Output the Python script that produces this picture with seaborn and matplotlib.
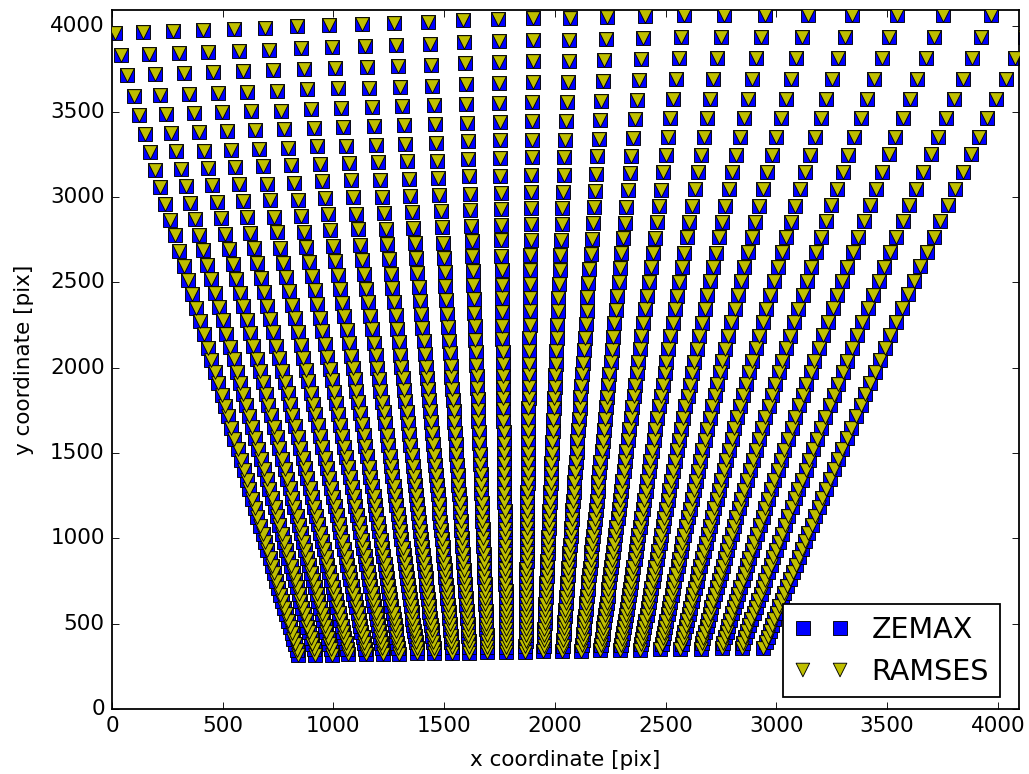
import numpy as np
import pandas as pd
import matplotlib
matplotlib.use("Agg")
import matplotlib.pyplot as plt
import seaborn as sns

# ---- data (detector pixel coordinates) ----
# x position of each order trace at its lowest and highest sample
col_x_bottom = [841, 918, 994, 1067, 1148, 1225, 1297, 1379, 1455, 1537, 1614, 1695, 1781,
                1867, 1948, 2034, 2120, 2206, 2296, 2386, 2477, 2567, 2658, 2753, 2843, 2942]
col_x_top = [14, 140, 276, 411, 551, 692, 836, 981, 1130, 1275, 1428, 1586, 1745,
             1903, 2070, 2237, 2409, 2585, 2766, 2951, 3141, 3340, 3544, 3751, 3968, 4172]
# sideways bending of each trace at mid-height
col_bow = [0, 0, 0, 0, 0, 0, 0, 0, 0, 0, 0, 0, 0,
           0, 0, 0, 0, -10, -25, -55, -90, -110, -140, -140, -140, -140]
# y position of lowest and highest sample of each trace
col_y_bottom = [316, 318, 319, 321, 322, 324, 325, 327, 328, 330, 331, 333, 334,
                336, 337, 339, 341, 343, 345, 347, 349, 351, 353, 355, 357, 359]
col_y_top = [3961, 3967, 3973, 3979, 3985, 3991, 4002, 4008, 4014, 4020, 4026, 4037, 4043,
             4049, 4049, 4055, 4061, 4065, 4065, 4065, 4065, 4065, 4065, 4065, 4065, 4065]
# y of the samples along the first trace (bottom -> top)
row_y_ref = [316, 347, 380, 413, 447, 481, 517, 554, 591, 630, 669, 710, 752, 794, 838,
             883, 929, 976, 1025, 1075, 1126, 1178, 1232, 1287, 1344, 1402, 1461, 1522,
             1585, 1649, 1715, 1776, 1840, 1908, 1972, 2045, 2118, 2196, 2274, 2352, 2432,
             2514, 2598, 2686, 2775, 2867, 2961, 3060, 3160, 3262, 3370, 3480, 3593, 3714,
             3835, 3961]

series_names = ["ZEMAX", "RAMSES"]
x_ticks = [0, 500, 1000, 1500, 2000, 2500, 3000, 3500, 4000]
y_ticks = [0, 500, 1000, 1500, 2000, 2500, 3000, 3500, 4000]

# ---- build table of points ----
ref = np.array(row_y_ref, dtype=float)
frac = (ref - ref[0]) / (ref[-1] - ref[0])
xs, ys = [], []
for c in range(len(col_x_bottom)):
    yv = col_y_bottom[c] + frac * (col_y_top[c] - col_y_bottom[c])
    xv = (col_x_bottom[c] + frac * (col_x_top[c] - col_x_bottom[c])
          + col_bow[c] * frac * (1 - frac))
    xs.extend(xv)
    ys.extend(yv)
df = pd.DataFrame({"x": xs, "y": ys})

plt.style.use("classic")
plt.rcParams["font.family"] = ["DejaVu Sans"]
plt.rcParams["font.size"] = 12

fig = plt.figure(figsize=(8, 6.0175), dpi=128.625)
fig.patch.set_facecolor("white")
ax = fig.add_axes([0.1088, 0.0840, 0.8815, 0.9030])

sns.scatterplot(data=df, x="x", y="y", marker="s", color="b", edgecolor="k",
                linewidth=0.5, s=58, label=series_names[0], ax=ax, zorder=2)
sns.scatterplot(data=df, x="x", y="y", marker="v", color=(0.75, 0.75, 0.0), edgecolor="k",
                linewidth=0.5, s=58, label=series_names[1], ax=ax, zorder=3)

ax.set_xlim(0, 4096)
ax.set_ylim(0, 4096)
ax.set_xticks(x_ticks)
ax.set_yticks(y_ticks)
ax.set_xlabel("x coordinate [pix]", fontsize=12, labelpad=8)
ax.set_ylabel("y coordinate [pix]", fontsize=12, labelpad=9)
ax.tick_params(direction="in", top=True, right=True, labelsize=12)

leg = ax.legend(loc="lower right", bbox_to_anchor=(0.9795, 0.0165), borderaxespad=0,
                scatterpoints=2, scatteryoffsets=[0.5],
                fontsize=16, fancybox=False, frameon=True, handlelength=1.9)
leg.get_frame().set_edgecolor("black")

fig.savefig("out.png", dpi=128.625, facecolor="white")
